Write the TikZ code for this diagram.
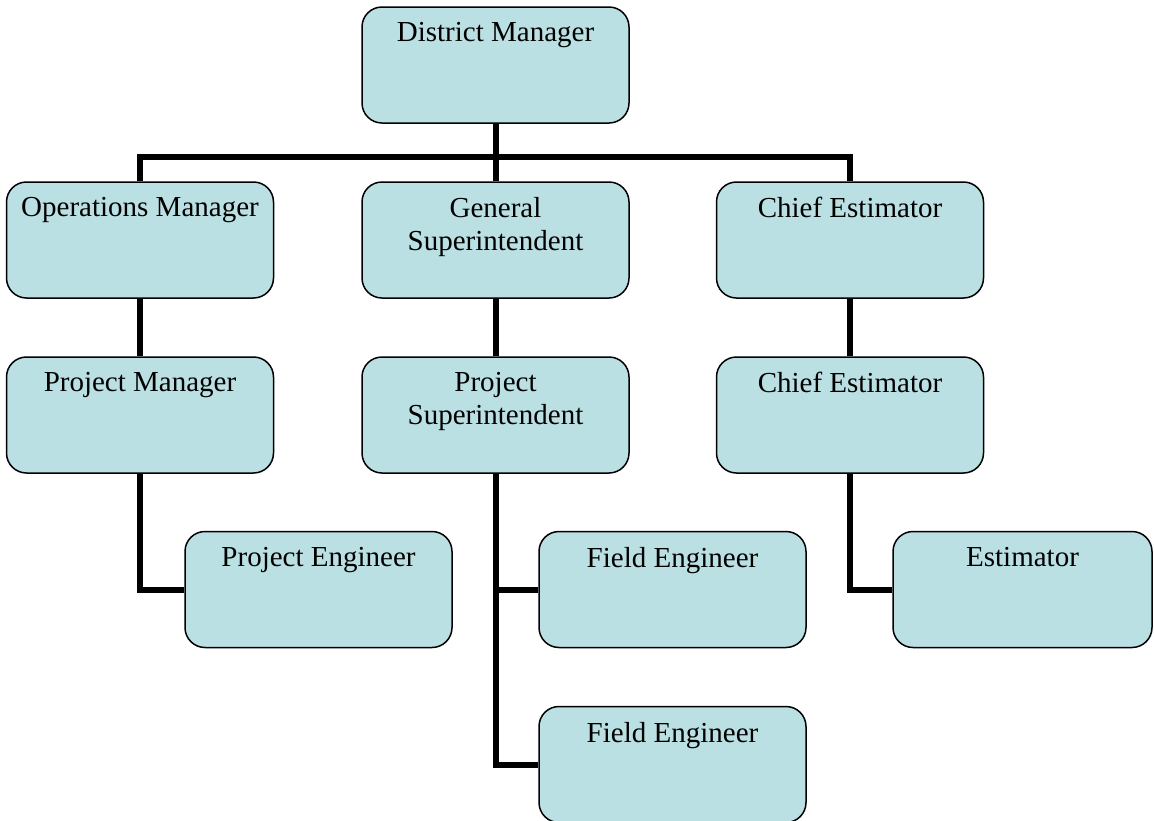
\documentclass[tikz,border=0pt]{standalone}
\usepackage{fontspec}
\setmainfont{Liberation Serif}
\begin{document}
\begin{tikzpicture}[x=1pt,y=-1pt,
  box/.style={draw=black, line width=1.5pt, fill=boxfill, rounded corners=20pt,
              inner sep=0pt, minimum width=267pt, minimum height=116pt},
  lbl/.style={anchor=north, inner sep=0pt, align=center,
              font=\fontsize{29}{33}\selectfont},
  link/.style={draw=black, line width=6pt}]
\definecolor{boxfill}{RGB}{187,224,227}
\useasboundingbox (0,0) rectangle (1154,820);

% boxes
\node[box] (dm)  at (495.5,65)  {};
\node[box] (om)  at (140,240)   {};
\node[box] (gs)  at (495.5,240) {};
\node[box] (ce)  at (850,240)   {};
\node[box] (pm)  at (140,415)   {};
\node[box] (ps)  at (495.5,415) {};
\node[box] (ce2) at (850,415)   {};
\node[box] (pe)  at (318.5,589.5) {};
\node[box] (fe1) at (672.5,589.5) {};
\node[box, minimum width=259pt] (est) at (1022.5,589.5) {};
\node[box] (fe2) at (672.5,764.5) {};

% labels
\node[lbl] (dmt)  at ([yshift=-16pt]dm.north)  {District Manager};
\node[lbl] (omt)  at ([yshift=-16pt]om.north)  {Operations Manager};
\node[lbl] (gst)  at ([yshift=-16pt]gs.north)  {General\\Superintendent};
\node[lbl] (cet)  at ([yshift=-16pt]ce.north)  {Chief Estimator};
\node[lbl] (pmt)  at ([yshift=-16pt]pm.north)  {Project Manager};
\node[lbl] (pst)  at ([yshift=-16pt]ps.north)  {Project\\Superintendent};
\node[lbl] (ce2t) at ([yshift=-16pt]ce2.north) {Chief Estimator};
\node[lbl] (pet)  at ([yshift=-16pt]pe.north)  {Project Engineer};
\node[lbl] (fe1t) at ([yshift=-16pt]fe1.north) {Field Engineer};
\node[lbl] (estt) at ([yshift=-16pt]est.north) {Estimator};
\node[lbl] (fe2t) at ([yshift=-16pt]fe2.north) {Field Engineer};

% connectors
\coordinate (bus) at (495.5,157);
\draw[link] (dm.south) -- (gs.north);
\draw[link] (om.north) |- (bus) -| (ce.north);
\draw[link] (om.south) -- (pm.north);
\draw[link] (gs.south) -- (ps.north);
\draw[link] (ce.south) -- (ce2.north);
\draw[link] (pm.south) |- (pe.west);
\draw[link] (ps.south) |- (fe1.west);
\draw[link] (ps.south) |- (fe2.west);
\draw[link] (ce2.south) |- (est.west);
\end{tikzpicture}
\end{document}
